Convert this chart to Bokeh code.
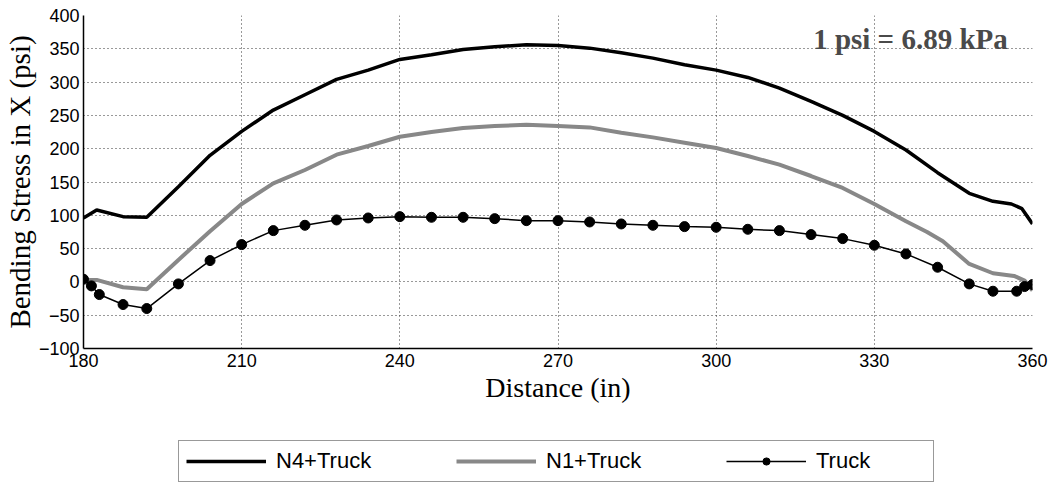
from bokeh.plotting import figure
from bokeh.models import Range1d, Legend, LegendItem, Label, FixedTicker
from bokeh.layouts import column
from bokeh.embed import file_html
from bokeh.resources import INLINE

# ---- data ----
n4_x = [180, 182.5, 187.5, 192, 198, 204, 210, 216, 222, 228, 234, 240, 246, 252, 258, 264,
        270, 276, 282, 288, 294, 300, 306, 312, 318, 324, 330, 336, 342, 348, 352.5, 356, 358, 360]
n4_y = [96, 108, 98, 97, 143, 190, 226, 258, 281, 304, 318, 334, 341, 349, 353, 356,
        355, 351, 344, 336, 326, 318, 307, 291, 271, 250, 226, 198, 164, 133, 121, 117, 110, 87]

n1_x = [180, 182.5, 187.5, 192, 198, 204, 210, 216, 222, 228, 234, 240, 246, 252, 258, 264,
        270, 276, 282, 288, 294, 300, 306, 312, 318, 324, 330, 336, 340, 343, 348, 352.5, 356.5, 358.5, 360]
n1_y = [3, 3, -8, -11, 33, 76, 117, 148, 168, 191, 204, 218, 225, 231, 234, 236,
        234, 232, 224, 217, 209, 201, 189, 176, 159, 141, 117, 91, 75, 61, 27, 13, 9, 2, -13]

truck_x = [180, 181.5, 183, 187.5, 192, 198, 204, 210, 216, 222, 228, 234, 240, 246, 252, 258,
           264, 270, 276, 282, 288, 294, 300, 306, 312, 318, 324, 330, 336, 342, 348, 352.5, 357, 358.5, 360]
truck_y = [4, -6, -19, -34, -40, -3, 32, 56, 77, 85, 93, 96, 98, 97, 97, 95,
           92, 92, 90, 87, 85, 83, 82, 79, 77, 71, 65, 55, 42, 22, -3, -14, -14, -7, -4]

x_ticks = [180, 210, 240, 270, 300, 330, 360]
y_ticks = [-100, -50, 0, 50, 100, 150, 200, 250, 300, 350, 400]
series_names = ["N4+Truck", "N1+Truck", "Truck"]
note_text = "1 psi = 6.89 kPa"

N4_STYLE = dict(line_color="black", line_width=3.5)
N1_STYLE = dict(line_color="#888888", line_width=4)
TR_LINE = dict(line_color="black", line_width=1.5)
TR_MARK = dict(marker="circle", size=10, fill_color="black", line_color="black")

# ---- main figure ----
p = figure(width=1051, height=435, output_backend="svg", toolbar_location=None,
           x_range=Range1d(180, 360), y_range=Range1d(-100, 400),
           min_border_left=83, min_border_right=19, min_border_top=15, min_border_bottom=87)
p.outline_line_color = None
p.background_fill_color = "white"
p.border_fill_color = "white"

for ax in (p.xaxis[0], p.yaxis[0]):
    ax.major_tick_in = 0
    ax.major_tick_out = 0
    ax.minor_tick_in = 0
    ax.minor_tick_out = 0
    ax.axis_line_color = "black"
    ax.axis_line_width = 1.5
    ax.major_label_text_font = "Liberation Sans"
    ax.major_label_text_font_size = "18px"
    ax.major_label_text_color = "black"
    ax.axis_label_text_font = "Liberation Serif"
    ax.axis_label_text_font_style = "normal"
    ax.axis_label_text_color = "black"

p.xaxis[0].ticker = FixedTicker(ticks=x_ticks)
p.yaxis[0].ticker = FixedTicker(ticks=y_ticks)
p.xaxis[0].axis_label = "Distance (in)"
p.yaxis[0].axis_label = "Bending Stress in X (psi)"
p.xaxis[0].axis_label_text_font_size = "28px"
p.yaxis[0].axis_label_text_font_size = "29px"
p.xaxis[0].major_label_standoff = 5
p.yaxis[0].major_label_standoff = 4
p.xaxis[0].axis_label_standoff = 2
p.yaxis[0].axis_label_standoff = 0

for g in (p.xgrid[0], p.ygrid[0]):
    g.grid_line_color = "#333333"
    g.grid_line_dash = "1 3"
    g.grid_line_width = 1
p.xgrid[0].ticker = FixedTicker(ticks=x_ticks)
p.ygrid[0].ticker = FixedTicker(ticks=y_ticks)

p.line(n4_x, n4_y, **N4_STYLE)
p.line(n1_x, n1_y, **N1_STYLE)
p.line(truck_x, truck_y, **TR_LINE)
p.scatter(truck_x, truck_y, **TR_MARK)

p.add_layout(Label(x=355.3, y=365, text=note_text, text_align="right",
                   text_baseline="alphabetic", text_font="Liberation Serif",
                   text_font_style="bold", text_font_size="29px", text_color="#4a4a4a"))

# ---- legend strip (proxy renderers lie outside this strip's visible range) ----
q = figure(width=1051, height=48, output_backend="svg", toolbar_location=None,
           x_axis_type=None, y_axis_type=None, x_range=Range1d(0, 1), y_range=Range1d(0, 1),
           min_border=0)
q.outline_line_color = None
q.xgrid.visible = False
q.ygrid.visible = False
q.background_fill_color = "white"
q.border_fill_color = "white"

l_n4 = q.line(n4_x, n4_y, **N4_STYLE)
l_n1 = q.line(n1_x, n1_y, **N1_STYLE)
l_tl = q.line(truck_x, truck_y, **TR_LINE)
l_tm = q.scatter(truck_x, truck_y, **TR_MARK)

legend = Legend(items=[LegendItem(label=series_names[0], renderers=[l_n4]),
                       LegendItem(label=series_names[1], renderers=[l_n1]),
                       LegendItem(label=series_names[2], renderers=[l_tl, l_tm])],
                orientation="horizontal", location=(95, 1),
                glyph_width=80, glyph_height=18, label_height=18, label_standoff=10,
                label_width=110, spacing=70, padding=7, margin=0,
                label_text_font="Liberation Sans", label_text_font_size="22px",
                label_text_color="black", border_line_color="#333333", border_line_width=1.5,
                background_fill_color="white", background_fill_alpha=1.0)
q.add_layout(legend, "center")

layout = column(p, q, spacing=0)
open("out.html", "w").write(file_html(layout, INLINE))
